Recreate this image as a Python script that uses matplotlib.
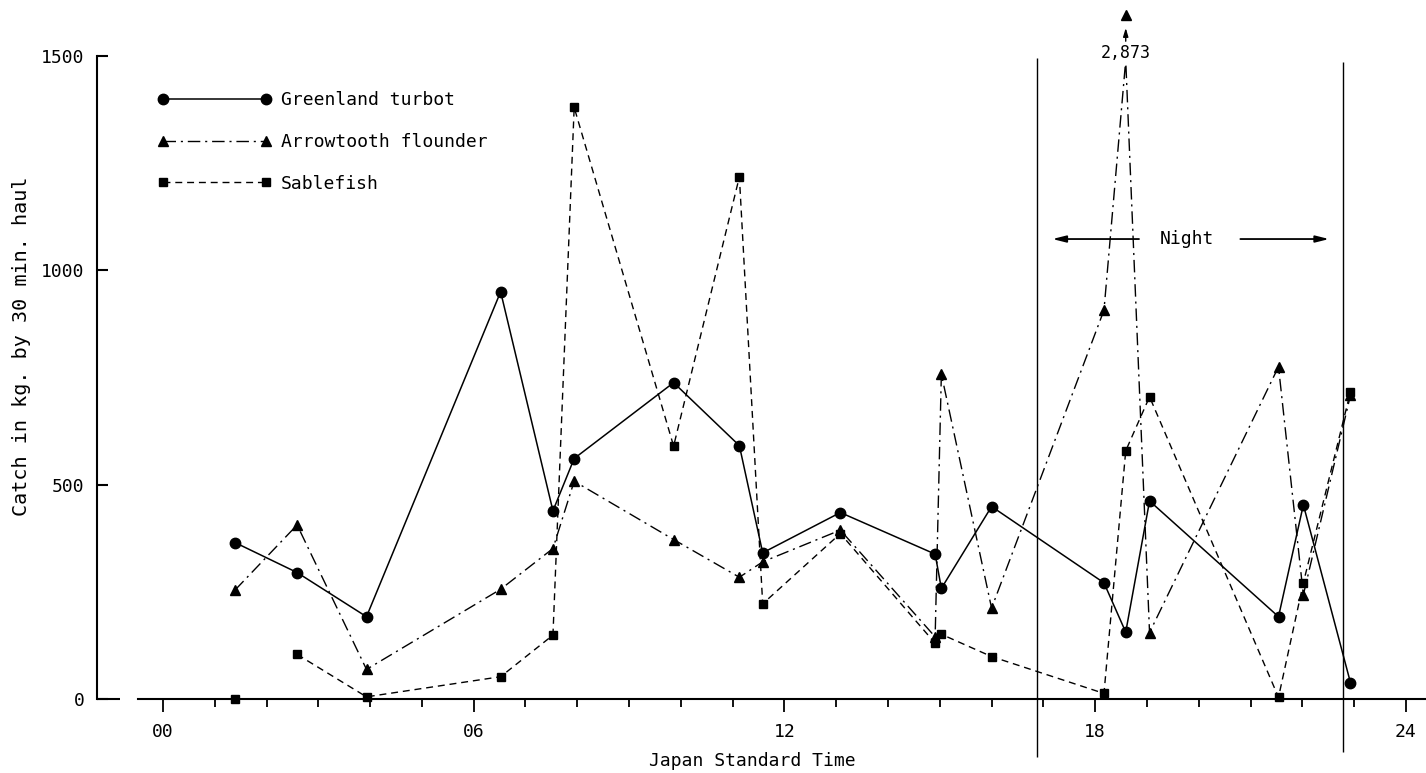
import numpy as np
import matplotlib
matplotlib.use("Agg")
import matplotlib.pyplot as plt
from matplotlib.lines import Line2D

plt.rcParams['font.family'] = ['DejaVu Sans Mono', 'DejaVu Sans']

# haul times (hours, Japan Standard Time) and catch in kg per 30 min haul
haul_time = [1.39, 2.59, 3.93, 6.52, 7.53, 7.94, 9.86, 11.13, 11.58, 13.08,
             14.91, 15.03, 16.0, 18.17, 18.59, 19.05, 21.54, 22.02, 22.93]
turbot = [365, 295, 192, 950, 439, 561, 738, 591, 341, 435,
          338, 258, 449, 271, 156, 462, 192, 453, 38]
arrowtooth = [254, 406, 69, 256, 351, 508, 372, 284, 320, 394,
              145, 758, 212, 907, 2873, 155, 775, 243, 709]
sablefish = [0, 104, 5, 52, 149, 1380, 590, 1218, 222, 386,
             130, 151, 99, 13, 579, 705, 4, 271, 717]

night_start = 16.87
night_end = 22.78
x_ticks = [0, 6, 12, 18, 24]
x_ticklabels = ['00', '06', '12', '18', '24']
y_ticks = [0, 500, 1000, 1500]

t = np.array(haul_time)
arrow = np.array(arrowtooth, dtype=float)
ymax_shown = 1490
arrow_line = np.minimum(arrow, ymax_shown)
off_scale = arrow > 1500

fig = plt.figure(figsize=(14.26, 7.73), dpi=100)
ax = fig.add_axes([0.06802, 0.01255, 0.93205, 0.98156])
ax.set_xlim(-1.274, 24.39)
ax.set_ylim(-150, 1620)

dash_dot = (0, (9, 3.5, 1.5, 3.5))
dashed = (0, (5, 3.5))

ax.plot(t, turbot, color='black', lw=1.1, marker='o', ms=7.5, ls='-')
ax.plot(t, arrow_line, color='black', lw=1.0, ls=dash_dot, marker='^', ms=6.5,
        markevery=list(np.where(~off_scale)[0]))
ax.plot(t[1:], sablefish[1:], color='black', lw=1.0, ls=dashed, marker='s', ms=6)
ax.plot(t[:1], sablefish[:1], color='black', ls='none', marker='s', ms=6)

# off-scale haul
for xi, yi in zip(t[off_scale], arrow[off_scale]):
    ax.plot([xi], [1596], color='black', marker='^', ms=6.5, clip_on=False)
    ax.annotate('', xy=(xi, 1572), xytext=(xi, 1528),
                arrowprops=dict(arrowstyle='-|>,head_length=0.5,head_width=0.15',
                                color='black', lw=1.0))
    ax.text(xi, 1507, f'{int(yi):,}', ha='center', va='center', fontsize=12,
            bbox=dict(facecolor='white', edgecolor='none', pad=0.5))

# night period
ax.vlines(night_start, -135, 1495, color='black', lw=1.0)
ax.vlines(night_end, -124, 1486, color='black', lw=1.0)
ax.annotate('', xy=(17.12, 1073), xytext=(18.9, 1073),
            arrowprops=dict(arrowstyle='-|>,head_length=0.8,head_width=0.2',
                            color='black', lw=1.3))
ax.annotate('', xy=(22.57, 1073), xytext=(20.75, 1073),
            arrowprops=dict(arrowstyle='-|>,head_length=0.8,head_width=0.2',
                            color='black', lw=1.3))
ax.text(19.78, 1073, 'Night', ha='center', va='center', fontsize=13)

# axes styling
for s in ['top', 'right']:
    ax.spines[s].set_visible(False)
ax.spines['left'].set_bounds(0, 1500)
ax.spines['left'].set_linewidth(1.5)
ax.spines['bottom'].set_position(('data', 0))
ax.spines['bottom'].set_bounds(-0.48, 24.39)
ax.spines['bottom'].set_linewidth(1.5)
ax.hlines(0, -1.274, -0.83, color='black', lw=1.5, clip_on=False)

ax.set_yticks(y_ticks)
ax.set_yticklabels([str(v) for v in y_ticks])
ax.tick_params(axis='y', direction='in', length=8, width=1.5, pad=9, labelsize=13)
ax.set_xticks(x_ticks)
ax.set_xticklabels(x_ticklabels)
ax.set_xticks(range(0, 25), minor=True)
ax.tick_params(axis='x', which='major', direction='out', length=9, width=1.3,
               pad=8, labelsize=13)
ax.tick_params(axis='x', which='minor', direction='out', length=6, width=1.3)

ax.set_ylabel('Catch in kg. by 30 min. haul', fontsize=14.5)
ax.yaxis.set_label_coords(-0.05, 0.55)
ax.set_xlabel('Japan Standard Time', fontsize=13)
ax.xaxis.set_label_coords(0.4929, 0.003)
ax.xaxis.label.set_va('center')

handles = [
    Line2D([], [], color='black', lw=1.1, ls='-', marker='o', ms=7.5),
    Line2D([], [], color='black', lw=1.0, ls=dash_dot, marker='^', ms=6.5),
    Line2D([], [], color='black', lw=1.0, ls=dashed, marker='s', ms=6),
]
ax.legend(handles, ['Greenland turbot', 'Arrowtooth flounder', 'Sablefish'],
          loc='upper left', bbox_to_anchor=(0.0453, 0.886), frameon=False,
          numpoints=2, handlelength=6.3, handletextpad=0.55, labelspacing=1.32,
          borderpad=0, borderaxespad=0, fontsize=13)

fig.savefig('out.png', dpi=100)
